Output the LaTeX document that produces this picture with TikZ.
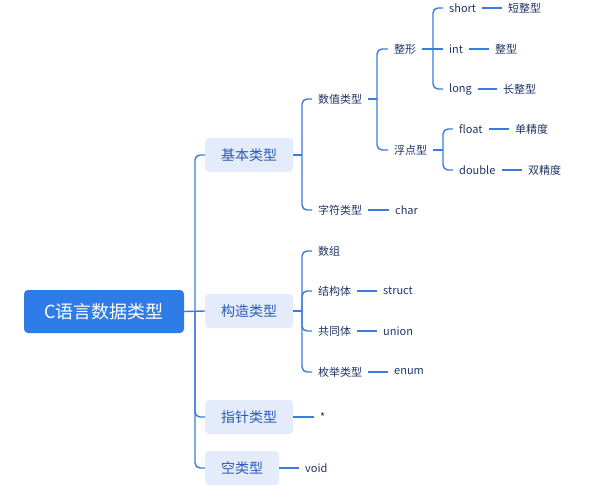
\documentclass[tikz,border=0pt]{standalone}
\usepackage{fontspec}
\setmainfont{Noto Sans CJK SC}
\usepackage{tikz}

\definecolor{linkblue}{HTML}{3A7BE0}
\definecolor{rootblue}{HTML}{2F7CE8}
\definecolor{boxfill}{HTML}{E4EBFB}
\definecolor{boxtext}{HTML}{2A5BB5}
\definecolor{leaftext}{HTML}{1F3566}

\begin{document}
\begin{tikzpicture}[x=1pt,y=-1pt,
  link/.style={draw=linkblue, line width=1.4pt, rounded corners=5pt},
  rootbox/.style={fill=rootblue, text=white, rounded corners=4pt, minimum width=160pt, minimum height=43pt, font=\fontsize{18}{20}\selectfont},
  typebox/.style={fill=boxfill, text=boxtext, rounded corners=4pt, inner xsep=16pt, minimum height=34pt, anchor=west, font=\fontsize{14}{16}\selectfont},
  leaf/.style={text=leaftext, inner xsep=6pt, inner ysep=2pt, anchor=west, font=\fontsize{11}{13}\selectfont}]
\useasboundingbox (0,0) rectangle (591,500);

\node[rootbox] (root) at (104,311.5) {C语言数据类型};
\node[typebox] (basic) at (205,155) {基本类型};
\node[typebox] (struc) at (205,311) {构造类型};
\node[typebox] (ptr) at (205,417) {指针类型};
\node[typebox] (empty) at (205,468) {空类型};

\node[leaf] (num) at (312,99) {数值类型};
\node[leaf] (chr) at (312,210) {字符类型};
\node[leaf] (chrkw) at (389,210) {char};
\node[leaf] (intg) at (388,49) {整形};
\node[leaf] (flt) at (388,150) {浮点型};
\node[leaf] (short) at (443,8) {short};
\node[leaf] (int) at (443,49) {int};
\node[leaf] (long) at (443,89) {long};
\node[leaf] (shortcn) at (502,8) {短整型};
\node[leaf] (intcn) at (489,49) {整型};
\node[leaf] (longcn) at (497,89) {长整型};
\node[leaf] (float) at (453,129) {float};
\node[leaf] (double) at (453,170) {double};
\node[leaf] (floatcn) at (509,129) {单精度};
\node[leaf] (doublecn) at (522,170) {双精度};

\node[leaf] (arr) at (312,251) {数组};
\node[leaf] (stru) at (312,291) {结构体};
\node[leaf] (strukw) at (377,291) {struct};
\node[leaf] (uni) at (312,331) {共同体};
\node[leaf] (unikw) at (377,331) {union};
\node[leaf] (enu) at (312,372) {枚举类型};
\node[leaf] (enukw) at (388,372) {enum};
\node[leaf] (star) at (314,417) {*};
\node[leaf] (voidkw) at (299,468) {void};

\coordinate (jroot) at (195,311);
\coordinate (jbasic) at (302,155);
\coordinate (jnum) at (377,99);
\coordinate (jintg) at (433,49);
\coordinate (jflt) at (443,150);
\coordinate (jstruc) at (302,311);

\draw[link] (root.east) -- (struc.west);
\draw[link] (basic.west) -| (jroot) |- (empty.west);
\draw[link] (jroot) |- (ptr.west);

\draw[link] (basic.east) -- (jbasic);
\draw[link] (num.west) -| (jbasic) |- (chr.west);
\draw[link] (num.east) -- (jnum);
\draw[link] (intg.west) -| (jnum) |- (flt.west);
\draw[link] (intg.east) -- (int.west);
\draw[link] (short.west) -| (jintg) |- (long.west);
\draw[link] (flt.east) -- (jflt);
\draw[link] (float.west) -| (jflt) |- (double.west);

\draw[link] (short) -- (shortcn);
\draw[link] (int) -- (intcn);
\draw[link] (long) -- (longcn);
\draw[link] (float) -- (floatcn);
\draw[link] (double) -- (doublecn);
\draw[link] (chr) -- (chrkw);

\draw[link] (struc.east) -- (jstruc);
\draw[link] (arr.west) -| (jstruc) |- (enu.west);
\draw[link] (jstruc) |- (stru.west);
\draw[link] (jstruc) |- (uni.west);
\draw[link] (stru) -- (strukw);
\draw[link] (uni) -- (unikw);
\draw[link] (enu) -- (enukw);

\draw[link] (ptr.east) -- (star.west);
\draw[link] (empty.east) -- (voidkw.west);
\end{tikzpicture}
\end{document}
